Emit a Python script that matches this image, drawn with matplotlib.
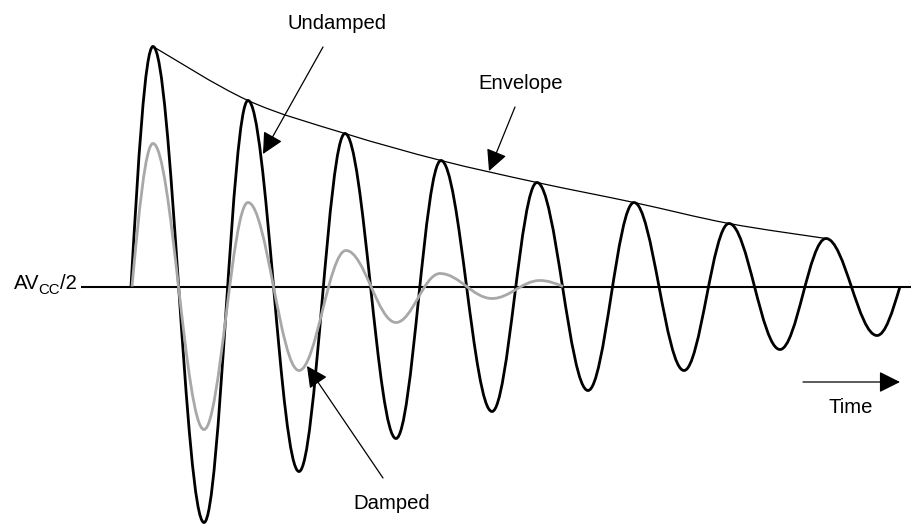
import matplotlib
matplotlib.use("Agg")
import matplotlib.pyplot as plt
from matplotlib.path import Path
from matplotlib.patches import PathPatch, FancyArrowPatch

plt.rcParams['font.family'] = ['Liberation Sans', 'DejaVu Sans']

# ---- data (time in arbitrary units, amplitude relative to AVCC/2) ----
undamped_t = [131, 153, 204, 248, 299, 345, 396, 441, 492, 537, 588, 634, 684, 729, 780, 826, 877, 900]
undamped_v = [0, 240, -236, 186, -185, 153, -152, 126, -125, 104, -104, 84, -84, 63, -63, 48, -49, 0]

damped_t = [132, 153, 204, 248, 299, 346, 396, 440, 492, 540, 563]
damped_v = [0, 143, -143, 84, -84, 36, -36, 13, -12, 6, 0]

envelope_t = [153, 248, 345, 441, 537, 634, 729, 826]
envelope_v = [240, 186, 153, 126, 104, 84, 63, 48]

labels = ["Undamped", "Envelope", "Damped", "Time"]


def wave_path(t, v):
    verts = [(t[0], v[0])]
    codes = [Path.MOVETO]
    k = 0.3634
    for i in range(len(t) - 1):
        t0, v0, t1, v1 = t[i], v[i], t[i + 1], v[i + 1]
        dt = t1 - t0
        if v0 == 0:
            p1 = (t0 + 0.3261 * dt, v0 + 0.5123 * (v1 - v0))
            p2 = (t0 + 0.6381 * dt, v1)
        elif v1 == 0:
            p1 = (t1 - 0.6381 * dt, v0)
            p2 = (t1 - 0.3261 * dt, v1 + 0.5123 * (v0 - v1))
        else:
            p1 = (t0 + k * dt, v0)
            p2 = (t1 - k * dt, v1)
        verts += [p1, p2, (t1, v1)]
        codes += [Path.CURVE4] * 3
    return Path(verts, codes)


def smooth_path(t, v):
    # Catmull-Rom spline through the points, expressed as cubic Bezier segments
    n = len(t)
    verts = [(t[0], v[0])]
    codes = [Path.MOVETO]
    for i in range(n - 1):
        im = max(i - 1, 0)
        ip2 = min(i + 2, n - 1)
        c1 = (t[i] + (t[i + 1] - t[im]) / 6.0, v[i] + (v[i + 1] - v[im]) / 6.0)
        c2 = (t[i + 1] - (t[ip2] - t[i]) / 6.0, v[i + 1] - (v[ip2] - v[i]) / 6.0)
        verts += [c1, c2, (t[i + 1], v[i + 1])]
        codes += [Path.CURVE4] * 3
    return Path(verts, codes)


fig = plt.figure(figsize=(9.12, 5.25), dpi=100)
ax = fig.add_axes([0, 0, 1, 1])
ax.set_xlim(0, 912)
ax.set_ylim(-238.5, 286.5)
ax.axis('off')

# baseline
ax.plot([81, 912], [0, 0], color='black', lw=1.5, solid_capstyle='butt', zorder=1)

ax.add_patch(PathPatch(wave_path(undamped_t, undamped_v), fill=False,
                       edgecolor='black', lw=2.0, zorder=2, capstyle='butt'))
ax.add_patch(PathPatch(wave_path(damped_t, damped_v), fill=False,
                       edgecolor='#a8a8a8', lw=2.0, zorder=3, capstyle='butt'))
ax.add_patch(PathPatch(smooth_path(envelope_t, envelope_v), fill=False,
                       edgecolor='black', lw=0.9, zorder=2))

fs = 14.6
txt_kw = dict(fontsize=fs, ha='center', va='baseline', color='black')


def arrow(tail, tip):
    a = FancyArrowPatch(tail, tip, arrowstyle='-|>,head_length=13,head_width=6.5',
                        mutation_scale=1, lw=0.9, color='black',
                        shrinkA=0, shrinkB=0, zorder=5)
    ax.add_patch(a)


ax.text(337.5, 286.5 - 29, labels[0], **txt_kw)
arrow((323, 286.5 - 47), (263, 286.5 - 154))

ax.text(521, 286.5 - 89, labels[1], **txt_kw)
arrow((515, 286.5 - 107), (489, 286.5 - 171))

ax.text(392, 286.5 - 509, labels[2], **txt_kw)
arrow((383, 286.5 - 478), (307, 286.5 - 366))

ax.text(851, 286.5 - 413, labels[3], **txt_kw)
arrow((803, 286.5 - 382), (900, 286.5 - 382))

# AVCC/2 label built from three pieces
ax.text(14, 286.5 - 289, 'AV', fontsize=fs, ha='left', va='baseline')
ax.text(38, 286.5 - 294, 'CC', fontsize=10.8, ha='left', va='baseline')
ax.text(60, 286.5 - 289, '/2', fontsize=fs, ha='left', va='baseline')

fig.savefig('out.png', dpi=100)
